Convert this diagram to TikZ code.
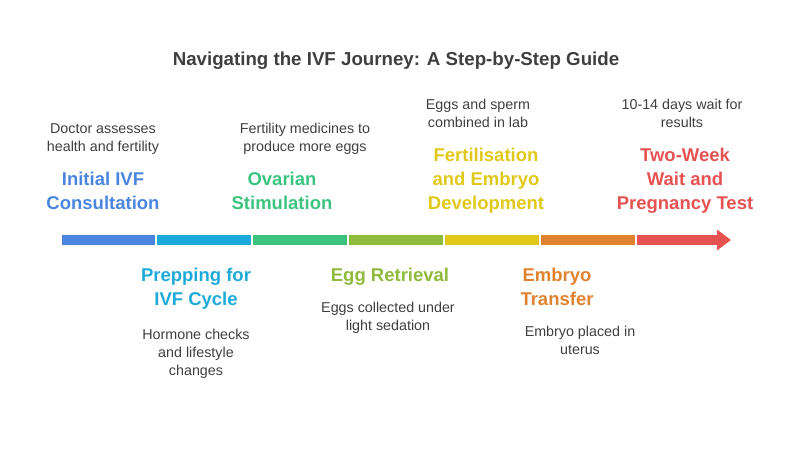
\documentclass[tikz,border=0pt]{standalone}
\usepackage{fontspec}
\setmainfont{Liberation Sans}
\usetikzlibrary{arrows.meta}
\definecolor{cA}{HTML}{4A86E0}
\definecolor{cB}{HTML}{1EAAD8}
\definecolor{cC}{HTML}{3CC47F}
\definecolor{cD}{HTML}{8FBA3C}
\definecolor{cE}{HTML}{E0C81A}
\definecolor{cF}{HTML}{E0822E}
\definecolor{cG}{HTML}{E65252}
\definecolor{tx}{HTML}{3F3F3F}
\begin{document}
\begin{tikzpicture}[x=1pt,y=-1pt,
  head/.style={font=\bfseries\fontsize{18.5}{24}\selectfont,align=center,inner sep=0pt},
  desc/.style={font=\fontsize{14.3}{18}\selectfont,align=center,text=tx,inner sep=0pt},
  seg/.style={line width=10pt}]
\useasboundingbox (0,0) rectangle (792,456);
\node[font=\bfseries\fontsize{18.7}{20}\selectfont,text=tx] (title) at (396,61) {Navigating the IVF Journey: A Step-by-Step Guide};
\coordinate (s0) at (62,240); \coordinate (s1) at (155,240);
\coordinate (t1) at (157,240); \coordinate (s2) at (251,240);
\coordinate (t2) at (253,240); \coordinate (s3) at (347,240);
\coordinate (t3) at (349,240); \coordinate (s4) at (443,240);
\coordinate (t4) at (445,240); \coordinate (s5) at (539,240);
\coordinate (t5) at (541,240); \coordinate (s6) at (635,240);
\coordinate (t6) at (637,240); \coordinate (s7) at (731,240);
\draw[seg,cA] (s0)--(s1);
\draw[seg,cB] (t1)--(s2);
\draw[seg,cC] (t2)--(s3);
\draw[seg,cD] (t3)--(s4);
\draw[seg,cE] (t4)--(s5);
\draw[seg,cF] (t5)--(s6);
\draw[seg,cG,-{Triangle[length=14pt,width=20pt]}] (t6)--(s7);

\node[head,text=cA,anchor=north] (h1) at (103,172) {Initial IVF\\Consultation};
\node[desc,anchor=north] (d1) at (103,123) {Doctor assesses\\health and fertility};
\node[head,text=cB,anchor=north] (h2) at (196,268) {Prepping for\\IVF Cycle};
\node[desc,anchor=north] (d2) at (196,329) {Hormone checks\\and lifestyle\\changes};
\node[head,text=cC,anchor=north] (h3) at (282,172) {Ovarian\\Stimulation};
\node[desc,anchor=north] (d3) at (305,123) {Fertility medicines to\\produce more eggs};
\node[head,text=cD,anchor=north] (h4) at (390,268) {Egg Retrieval};
\node[desc,anchor=north] (d4) at (388,302) {Eggs collected under\\light sedation};
\node[head,text=cE,anchor=north] (h5) at (486,148) {Fertilisation\\and Embryo\\Development};
\node[desc,anchor=north] (d5) at (478,99) {Eggs and sperm\\combined in lab};
\node[head,text=cF,anchor=north] (h6) at (557,268) {Embryo\\Transfer};
\node[desc,anchor=north] (d6) at (580,326) {Embryo placed in\\uterus};
\node[head,text=cG,anchor=north] (h7) at (685,148) {Two-Week\\Wait and\\Pregnancy Test};
\node[desc,anchor=north] (d7) at (682,99) {10-14 days wait for\\results};
\end{tikzpicture}
\end{document}
